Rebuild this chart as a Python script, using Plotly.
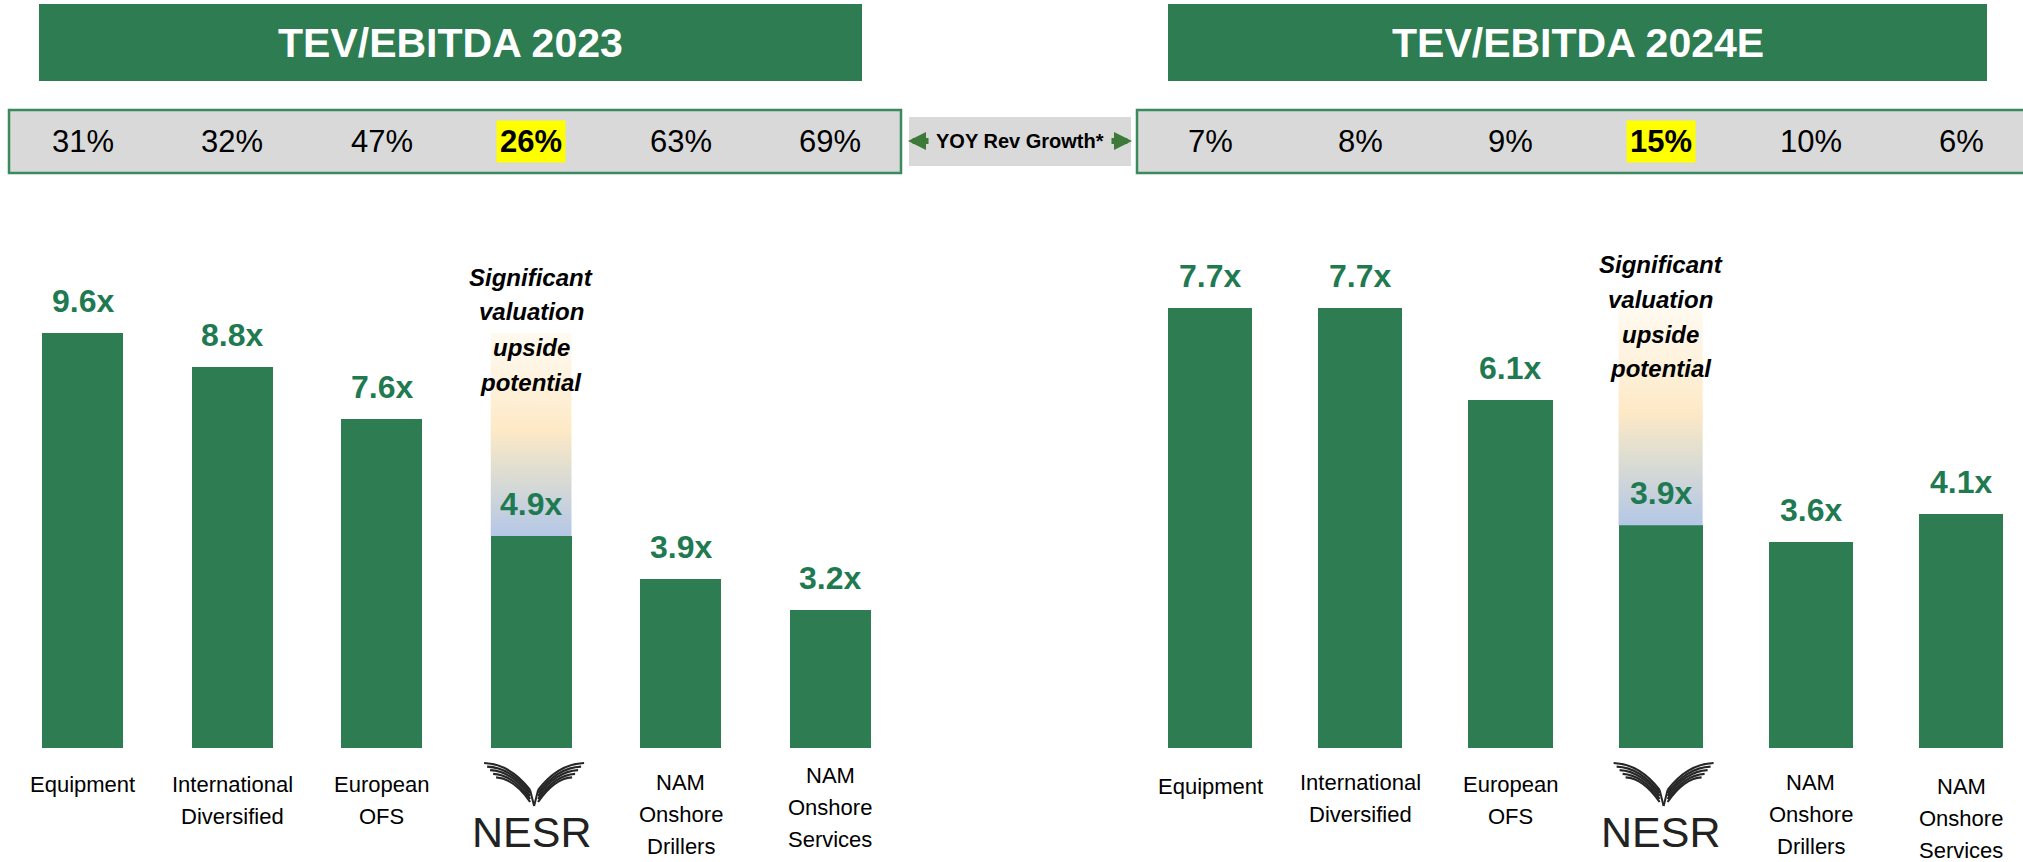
import plotly.graph_objects as go

# data
categories = ['Equipment', 'International<br>Diversified', 'European<br>OFS', 'NESR',
              'NAM<br>Onshore<br>Drillers', 'NAM<br>Onshore<br>Services']
tev_2023 = [9.6, 8.8, 7.6, 4.9, 3.9, 3.2]
tev_2024 = [7.7, 7.7, 6.1, 3.9, 3.6, 4.1]
growth_2023 = ['31%', '32%', '47%', '26%', '63%', '69%']
growth_2024 = ['7%', '8%', '9%', '15%', '10%', '6%']
titles = ['TEV/EBITDA 2023', 'TEV/EBITDA 2024E']
note = ['Significant', 'valuation', 'upside', 'potential']
nesr_idx = 3

W, H = 2023, 862
GREEN = '#2e7d52'
LABEL_GREEN = '#1f7a52'
GRAY = '#d9d9d9'
FONT = 'Liberation Sans, Arial, sans-serif'


def px_x(p):
    return p / W


def px_y(p):
    return 1 - p / H


# panel geometry (pixels)
panels = [
    dict(vals=tev_2023, growth=growth_2023, title=titles[0], xa='x', ya='y',
         dom_px=(7.85, 904.85), unit=149.5, px_per=43.24,
         banner=(39, 862), gbox=(9, 901), note_y=277, bw=0.54,
         lab_top=[784, 784, 784, 0, 782, 775]),
    dict(vals=tev_2024, growth=growth_2024, title=titles[1], xa='x2', ya='y2',
         dom_px=(1134.9, 2023), unit=150.2, px_per=57.1,
         banner=(1168, 1987), gbox=(1137, 2040), note_y=264, bw=0.56,
         lab_top=[786, 782, 784, 0, 782, 786]),
]
base_px = 748

fig = go.Figure()
shapes = []
annotations = []
xpos = list(range(len(categories)))


def txt(x, y, text, xref, size, color='black', bold=False, italic=False, **kw):
    d = dict(x=x, y=y, xref=xref, yref='paper', text=text, showarrow=False,
             xanchor='center', yanchor='middle',
             font=dict(family=FONT, size=size, color=color,
                       weight='bold' if bold else 'normal',
                       style='italic' if italic else 'normal'))
    d.update(kw)
    annotations.append(d)


for k, p in enumerate(panels):
    vals = p['vals']
    fig.add_bar(x=xpos, y=vals, width=p['bw'], marker=dict(color=GREEN, line=dict(width=0)),
                xaxis=p['xa'], yaxis=p['ya'], showlegend=False, hoverinfo='skip')

    # gradient "upside" block above the NESR bar, up to best peer multiple
    top = max(v for i, v in enumerate(vals) if i != nesr_idx)
    v = vals[nesr_idx]
    hw = p['bw'] / 2
    fig.add_scatter(x=[nesr_idx - hw, nesr_idx + hw, nesr_idx + hw, nesr_idx - hw, nesr_idx - hw],
                    y=[v, v, top, top, v], mode='lines', fill='toself', line=dict(width=0),
                    fillgradient=dict(type='vertical',
                                      colorscale=[[0, '#b4c7e7'], [0.3, '#dcdcd2'],
                                                  [0.52, '#fde9c6'], [0.78, '#fef3df'],
                                                  [1, '#fffaf0']]),
                    xaxis=p['xa'], yaxis=p['ya'], showlegend=False, hoverinfo='skip')

    # value labels
    for i, val in enumerate(vals):
        annotations.append(dict(x=i, y=val, xref=p['xa'], yref=p['ya'], text=f'{val:.1f}x',
                                showarrow=False, xanchor='center', yanchor='bottom', yshift=12,
                                font=dict(family=FONT, size=32, color=LABEL_GREEN, weight='bold')))

    # category labels, one annotation per line
    for i, cat in enumerate(categories):
        if i == nesr_idx:
            txt(i, px_y(832), 'NESR', p['xa'], 43, color='#222222')
            continue
        for j, line in enumerate(cat.split('<br>')):
            txt(i, px_y(p['lab_top'][i] + 32 * j), line, p['xa'], 22)

    # NESR wings logo: stacked feather strokes, sized in pixels
    cx = px_x(p['dom_px'][0] + (nesr_idx + 0.5) * p['unit'] + 3)
    by = px_y(base_px)
    for s in (-1, 1):
        for b in range(5):
            feather = (f'M {s*(50 - 3*b)},{-15 - 3.6*b} '
                       f'Q {s*(24 - b)},{-16 - 3.6*b} {s*4},{-42 - 3*b}')
            shapes.append(dict(type='path', path=feather, xref='paper', yref='paper',
                               xsizemode='pixel', ysizemode='pixel', xanchor=cx, yanchor=by,
                               line=dict(color='#262626', width=2.2)))
        shapes.append(dict(type='path', path=f'M {s*4},-42 L 0,-58', xref='paper', yref='paper',
                           xsizemode='pixel', ysizemode='pixel', xanchor=cx, yanchor=by,
                           line=dict(color='#262626', width=2)))

    # upside note
    for j, line in enumerate(note):
        txt(nesr_idx, px_y(p['note_y'] + 35 * j), line, p['xa'], 24, bold=True, italic=True)

    # title banner
    bx0, bx1 = p['banner']
    shapes.append(dict(type='rect', xref='paper', yref='paper', x0=px_x(bx0), x1=px_x(bx1),
                       y0=px_y(81), y1=px_y(4), fillcolor=GREEN, line=dict(width=0), layer='below'))
    txt(px_x((bx0 + bx1) / 2), px_y(43), p['title'], 'paper', 41, color='white', bold=True)

    # growth box
    gx0, gx1 = p['gbox']
    shapes.append(dict(type='rect', xref='paper', yref='paper', x0=px_x(gx0), x1=px_x(gx1),
                       y0=px_y(173), y1=px_y(110), fillcolor=GRAY,
                       line=dict(color='#3b8a5e', width=2.5), layer='below'))
    for i, g in enumerate(p['growth']):
        hl = i == nesr_idx
        txt(i, px_y(141), g, p['xa'], 31, bold=hl,
            bgcolor='#ffff00' if hl else None, borderpad=3)

# YOY label between the panels
shapes.append(dict(type='rect', xref='paper', yref='paper', x0=px_x(909), x1=px_x(1131),
                   y0=px_y(166), y1=px_y(117), fillcolor=GRAY, line=dict(width=0), layer='below'))
txt(px_x(1020), px_y(141), 'YOY Rev Growth*', 'paper', 20, bold=True)
for xp, ax in ((908, 22), (1132, -22)):
    annotations.append(dict(x=px_x(xp), y=px_y(141), xref='paper', yref='paper',
                            ax=ax, ay=0, text='', showarrow=True, arrowhead=2, arrowsize=0.6,
                            arrowwidth=6, arrowcolor='#3d7a3a'))

layout_axes = {}
for k, p in enumerate(panels):
    sfx = '' if k == 0 else '2'
    d0, d1 = p['dom_px']
    layout_axes['xaxis' + sfx] = dict(domain=[px_x(d0), min(px_x(d1), 1)],
                                      range=[-0.5, -0.5 + (d1 - d0) / p['unit']],
                                      visible=False, fixedrange=True)
    layout_axes['yaxis' + sfx] = dict(domain=[px_y(base_px), 1], range=[0, base_px / p['px_per']],
                                      visible=False, fixedrange=True, anchor='x' + sfx)
layout_axes['xaxis2']['anchor'] = 'y2'

fig.update_layout(width=W, height=H, margin=dict(l=0, r=0, t=0, b=0),
                  paper_bgcolor='white', plot_bgcolor='rgba(0,0,0,0)',
                  shapes=shapes, annotations=annotations, bargap=0, **layout_axes)

# page body has a default 8px margin; drop it so the figure sits at the window corner
fig.write_html('out.html', config={'displayModeBar': False},
               post_script="document.body.style.margin='0';")
